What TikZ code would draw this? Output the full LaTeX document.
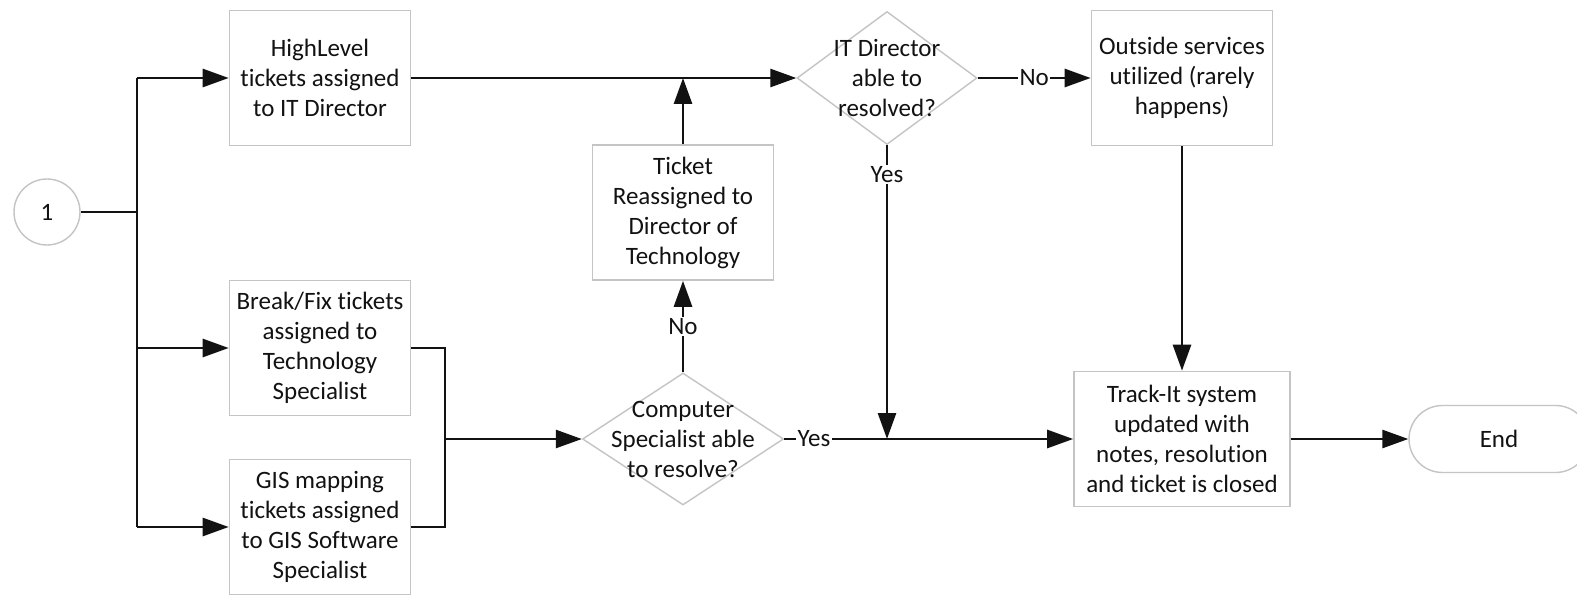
\documentclass[tikz,border=0pt]{standalone}
\usepackage{fontspec}
\setmainfont{Carlito}[Ligatures={NoCommon}]
\usetikzlibrary{arrows.meta,shapes.geometric}
\definecolor{boxgray}{HTML}{C4C4C4}
\definecolor{inkblack}{HTML}{121212}
\tikzset{
  base/.style={font=\fontsize{25}{30}\selectfont, text=inkblack},
  procbox/.style={base, draw=boxgray, line width=1.6pt, fill=white,
    minimum width=181pt, minimum height=135pt, align=center, inner sep=2pt},
  decision/.style={diamond, draw=boxgray, line width=1.4pt, inner sep=0pt},
  qtext/.style={base, align=center, inner sep=0pt},
  flow/.style={draw=inkblack, line width=2.7pt, -{Triangle[length=26pt,width=18pt]}},
  plain/.style={draw=inkblack, line width=2.7pt},
  lbl/.style={base, fill=white, inner sep=1.5pt}
}
\begin{document}
\begin{tikzpicture}[x=1pt,y=-1pt]
\useasboundingbox (0,0) rectangle (1577,596);
\fill[white] (0,0) rectangle (1577,596);
\clip (0,0) rectangle (1577,596);

% start connector
\node[base, circle, draw=boxgray, line width=1.4pt, minimum size=66pt, inner sep=0pt] (start) at (47,212) {1};

% first column: assignment boxes
\node[procbox] (hl)  at (320,78)  {HighLevel\\tickets assigned\\to IT Director};
\node[procbox] (bf)  at (320,348) {Break/Fix tickets\\assigned to\\Technology\\Specialist};
\node[procbox] (gis) at (320,527) {GIS mapping\\tickets assigned\\to GIS Software\\Specialist};

% decisions and reassignment
\node[decision, minimum width=201pt, minimum height=132pt] (comp) at (683,439) {};
\node[qtext] (comptext) at (comp.center) {Computer\\Specialist able\\to resolve?};
\node[procbox] (tk) at (683,212.5) {Ticket\\Reassigned to\\Director of\\Technology};
\node[decision, minimum width=180pt, minimum height=133pt] (itd) at (887,78) {};
\node[qtext] (itdtext) at (itd.center) {IT Director\\able to\\resolved?};

% right side
\node[procbox] (out) at (1182,78) {Outside services\\utilized (rarely\\happens)};
\node[procbox, minimum width=216pt] (track) at (1182,439) {Track-It system\\updated with\\notes, resolution\\and ticket is closed};
\node[base, draw=boxgray, line width=1.4pt, rounded corners=33.5pt,
      minimum width=180pt, minimum height=67pt] (endn) at (1499,439) {End};

% fan-out from the start connector
\coordinate (tt) at (137,78);
\coordinate (tb) at (137,527);
\draw[plain] (tt) -- (tb);
\draw[plain] (start.east) -- (start.east -| tt);
\draw[flow] (tt) -- (hl.west);
\draw[flow] (bf.west -| tt) -- (bf.west);
\draw[flow] (tb) -- (gis.west);

% merge of the specialist tickets
\coordinate (mx) at (445,439);
\draw[plain] (bf.east) -- (bf.east -| mx) -- (gis.east -| mx) -- (gis.east);
\draw[flow] (mx) -- (comp.west);

% decision outcomes
\draw[flow] (comp.north) -- node[lbl]{No} (tk.south);
\draw[flow] (tk.north) -- (tk.north |- hl.east);
\draw[flow] (hl.east) -- (itd.west);
\draw[flow] (itd.east) -- node[lbl]{No} (out.west);
\draw[flow] (itd.south) -- node[lbl, pos=0.1]{Yes} (itd.south |- comp.east);
\draw[flow] (comp.east) -- node[lbl, pos=0.103]{Yes} (track.west);
\draw[flow] (out.south) -- (track.north);
\draw[flow] (track.east) -- (endn.west);
\end{tikzpicture}
\end{document}
